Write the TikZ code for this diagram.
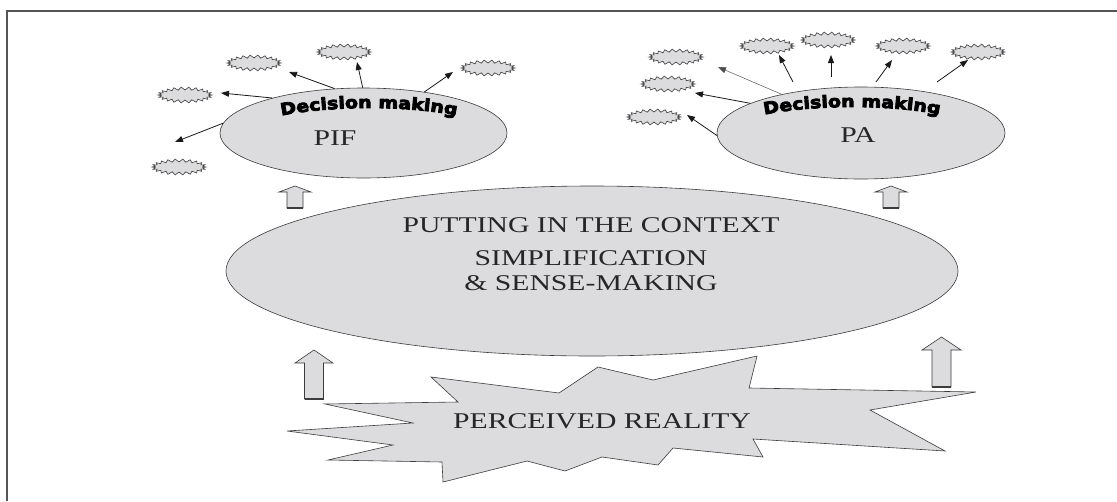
\documentclass[tikz,border=0pt]{standalone}
\usepackage{fontspec}
\setmainfont{Liberation Serif}[FakeStretch=1.32]
\newfontfamily\dmfont{DejaVu Sans}[FakeStretch=1.15, FakeBold=5]
\usetikzlibrary{shapes.geometric,arrows.meta,decorations.text}

\definecolor{shade}{RGB}{220,220,222}
\definecolor{edge}{RGB}{60,60,60}
\definecolor{framecol}{RGB}{85,85,85}

\tikzset{
  oval/.style={ellipse, draw=edge, fill=shade, line width=0.6pt, inner sep=0pt},
  lbl/.style={font=\fontsize{22.5}{24}\selectfont, text=black!85, inner sep=0pt, anchor=base},
  ray/.style={draw=black!90, line width=0.8pt, -{Triangle[length=8pt,width=6pt]}},
  thinray/.style={draw=black!70, line width=0.45pt, -{Triangle[length=8pt,width=6pt]}},
  blockline/.style={draw=edge, fill=shade, line width=0.6pt, line join=miter},
  arcword/.style={decorate, decoration={text along path, text align=center,
      text={|\dmfont\bfseries\fontsize{16.5}{18}\selectfont|Decision making}}},
  % small jagged ellipse
  spark/.pic={
    \draw[draw=edge, fill=shade, line width=0.6pt, line join=miter]
      plot[samples at={0,...,43}, variable=\i]
        ({(24+3*mod(\i+1,2))*cos(\i*360/44)}, {(5+3*mod(\i+1,2))*sin(\i*360/44)}) -- cycle;
  },
  % hollow block arrow pointing up, with a darker base line
  uparr/.pic={
    \draw[blockline] (0,0) -- (\pgfkeysvalueof{/tikz/ahw},\pgfkeysvalueof{/tikz/ahl})
      -- (\pgfkeysvalueof{/tikz/asw},\pgfkeysvalueof{/tikz/ahl})
      -- (\pgfkeysvalueof{/tikz/asw},\pgfkeysvalueof{/tikz/alen})
      -- (-\pgfkeysvalueof{/tikz/asw},\pgfkeysvalueof{/tikz/alen})
      -- (-\pgfkeysvalueof{/tikz/asw},\pgfkeysvalueof{/tikz/ahl})
      -- (-\pgfkeysvalueof{/tikz/ahw},\pgfkeysvalueof{/tikz/ahl}) -- cycle;
    \draw[edge, line width=1.1pt]
      (-\pgfkeysvalueof{/tikz/asw},\pgfkeysvalueof{/tikz/alen})
      -- (\pgfkeysvalueof{/tikz/asw},\pgfkeysvalueof{/tikz/alen});
  },
  alen/.initial=22, ahl/.initial=6, ahw/.initial=16, asw/.initial=8,
}

\begin{document}
\begin{tikzpicture}[x=1pt,y=-1pt]
\useasboundingbox (0,0) rectangle (1117,501);
\fill[white] (0,0) rectangle (1117,501);

% open frame
\draw[framecol, line width=1.4pt] (7,501) -- (7,11) -- (1117,11);

% central sense-making ellipse
\node[oval, minimum width=732pt, minimum height=170pt] (ctx) at (592,271) {};
\node[lbl] (ctx1) at (591,232) {PUTTING IN THE CONTEXT};
\node[lbl] (ctx2) at (591,265) {SIMPLIFICATION};
\node[lbl] (ctx3) at (591,290) {\& SENSE-MAKING};

% the two decision ellipses
\node[oval, minimum width=287pt, minimum height=90pt] (pif) at (363.5,133) {};
\node[oval, minimum width=288pt, minimum height=92pt] (pa) at (861,133) {};
\node[lbl] (piflbl) at (335,145) {PIF};
\node[lbl] (palbl) at (858,142) {PA};
\path[arcword] (369,136) ++(200:128 and 28) arc[start angle=200, end angle=340, x radius=128, y radius=28];
\path[arcword] (852,135) ++(200:128 and 28) arc[start angle=200, end angle=340, x radius=128, y radius=28];

% perceived reality burst
\draw[draw=edge, fill=shade, line width=0.6pt, line join=miter]
  (431,377) -- (559,393) -- (598,367) -- (653,380) -- (757,356) -- (749,388)
  -- (976,392) -- (870,410) -- (945,451) -- (753,439) -- (763,457) -- (673,448)
  -- (658,465) -- (602,457) -- (565,471) -- (527,461) -- (443,482) -- (442,462)
  -- (328,460) -- (393,445) -- (287,431) -- (413,423) -- (325,404) -- (458,402) -- cycle;
\node[lbl] (real) at (602,428) {PERCEIVED REALITY};

% upward block arrows
\pic[alen=49, ahl=13, ahw=19, asw=9.5] (upl) at (314,350) {uparr};
\pic[alen=50, ahl=13, ahw=19.5, asw=9.5] (upr) at (941.5,337) {uparr};
\pic[alen=22, ahl=6, ahw=16, asw=8] (upa) at (295,186) {uparr};
\pic[alen=22, ahl=6, ahw=16, asw=8] (upb) at (891,186) {uparr};

% options around PIF
\pic (s1) at (254,63) {spark};
\pic (s2) at (344,52) {spark};
\pic (s3) at (488,68) {spark};
\pic (s4) at (185,95) {spark};
\pic (s5) at (179,167) {spark};
\coordinate (e1) at (289,72);
\coordinate (e2) at (357,62);
\coordinate (e3) at (453,72);
\coordinate (e4) at (221,93);
\coordinate (e5) at (175,142);
\draw[ray] (pif.123) -- (e1);
\draw[ray] (pif.91) -- (e2);
\draw[ray] (pif.34) -- (e3);
\draw[ray] (pif.159) -- (e4);
\draw[ray] (pif.176) -- (e5);

% options around PA
\pic (t1) at (676,57) {spark};
\pic (t2) at (668,84) {spark};
\pic (t3) at (654,117) {spark};
\pic (t4) at (767,46) {spark};
\pic (t5) at (828,40) {spark};
\pic (t6) at (903,46) {spark};
\pic (t7) at (978,52) {spark};
\coordinate (f1) at (718,67);
\coordinate (f2) at (695,93);
\coordinate (f3) at (687,115);
\coordinate (f4) at (779,55);
\coordinate (f5) at (831,55);
\coordinate (f6) at (892,60);
\coordinate (f7) at (968,60);
\coordinate (g4) at (793,82);
\coordinate (g5) at (831,77);
\coordinate (g6) at (876,82);
\coordinate (g7) at (937,82);
\draw[thinray] (pa.154) -- (f1);
\draw[ray] (pa.165) -- (f2);
\draw[ray] (pa.181) -- (f3);
\draw[ray] (g4) -- (f4);
\draw[ray] (g5) -- (f5);
\draw[ray] (g6) -- (f6);
\draw[ray] (g7) -- (f7);
\end{tikzpicture}
\end{document}
